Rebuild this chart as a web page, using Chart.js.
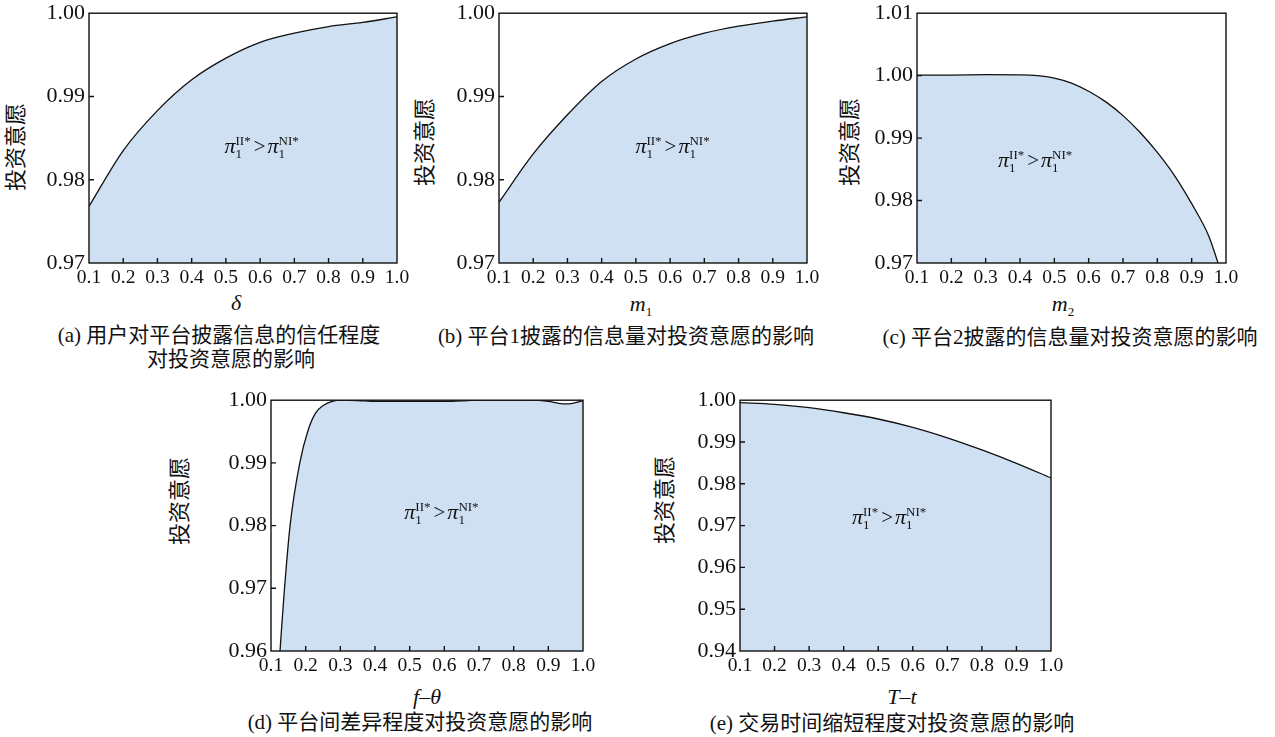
<!DOCTYPE html>
<html>
<head>
<meta charset="utf-8">
<script src="https://cdn.jsdelivr.net/npm/chart.js@4.4.1/dist/chart.umd.min.js"></script>
<style>
  html, body { margin: 0; padding: 0; background: #fff; }
  #wrap { position: relative; width: 1275px; height: 737px; overflow: hidden; }
  #wrap canvas { position: absolute; }
  .t { position: absolute; transform: translate(-50%, -50%); white-space: nowrap; color: #111;
       font-family: "Liberation Serif", "Times New Roman", "Noto Sans CJK SC", serif; line-height: 1; }
  .yt { font-size: 22px; transform: translate(-50%, -50%) rotate(-90deg); }
  .xt { font-size: 22px; }
  .xt sub { font-size: 13px; font-style: normal; vertical-align: -5px; }
  .cap { font-size: 21px; }
</style>
</head>
<body>
<div id="wrap">
  <div class="t yt" style="left:16px;top:147px">投资意愿</div>
  <div class="t yt" style="left:425px;top:142px">投资意愿</div>
  <div class="t yt" style="left:850px;top:142px">投资意愿</div>
  <div class="t yt" style="left:180px;top:501px">投资意愿</div>
  <div class="t yt" style="left:665px;top:500px">投资意愿</div>

  <div class="t xt" style="left:236px;top:303px"><i>δ</i></div>
  <div class="t xt" style="left:641px;top:305px"><i>m</i><sub>1</sub></div>
  <div class="t xt" style="left:1063px;top:305px"><i>m</i><sub>2</sub></div>
  <div class="t xt" style="left:427px;top:697px"><i>f</i>–<i>θ</i></div>
  <div class="t xt" style="left:902px;top:697px"><i>T</i>–<i>t</i></div>

  <div class="t cap" style="left:219px;top:335px">(a) 用户对平台披露信息的信任程度</div>
  <div class="t cap" style="left:231px;top:359px">对投资意愿的影响</div>
  <div class="t cap" style="left:626px;top:336px">(b) 平台1披露的信息量对投资意愿的影响</div>
  <div class="t cap" style="left:1070px;top:337px">(c) 平台2披露的信息量对投资意愿的影响</div>
  <div class="t cap" style="left:420px;top:722px">(d) 平台间差异程度对投资意愿的影响</div>
  <div class="t cap" style="left:892px;top:723px">(e) 交易时间缩短程度对投资意愿的影响</div>
</div>
<script>
const SERIF = '"Liberation Serif", "Times New Roman", serif';

// tick values
const xTicks = [0.1, 0.2, 0.3, 0.4, 0.5, 0.6, 0.7, 0.8, 0.9, 1.0];
const yTicksAB = [0.97, 0.98, 0.99, 1.00];
const yTicksC = [0.97, 0.98, 0.99, 1.00, 1.01];
const yTicksD = [0.96, 0.97, 0.98, 0.99, 1.00];
const yTicksE = [0.94, 0.95, 0.96, 0.97, 0.98, 0.99, 1.00];

// (a) delta
const deltaX = [0.1, 0.2, 0.3, 0.4, 0.5, 0.6, 0.7, 0.8, 0.9, 1.0];
const deltaY = [0.9768, 0.9835, 0.9883, 0.9920, 0.9946, 0.9965, 0.9976, 0.9984, 0.9989, 0.99956];

// (b) m1
const m1X = [0.1, 0.2, 0.3, 0.4, 0.5, 0.6, 0.7, 0.8, 0.9, 1.0];
const m1Y = [0.9773, 0.9831, 0.9878, 0.9918, 0.9945, 0.99635, 0.9976, 0.99845, 0.99905, 0.99956];

// (c) m2
const m2X = [0.1, 0.2, 0.3, 0.4, 0.45, 0.5, 0.55, 0.6, 0.65, 0.7, 0.75, 0.8, 0.85, 0.9, 0.95, 0.977];
const m2Y = [1.0001, 1.0001, 1.00015, 1.00012, 1.0000, 0.9996, 0.9988, 0.9975, 0.9958, 0.9936, 0.9909, 0.9877, 0.9840, 0.9795, 0.9743, 0.9700];

// (d) f - theta
const ftX = [0.126, 0.131, 0.139, 0.155, 0.183, 0.207, 0.228, 0.252, 0.277, 0.30, 0.35, 0.40, 0.50, 0.60, 0.65, 0.70, 0.80, 0.85, 0.90, 0.93, 0.95, 0.97, 1.00];
const ftY = [0.960, 0.9640, 0.970, 0.980, 0.990, 0.9952, 0.9979, 0.9992, 0.9998, 1.0000, 0.99995, 0.9998, 0.9998, 0.9998, 0.9999, 1.0000, 1.0000, 1.0000, 0.9998, 0.9995, 0.9994, 0.9995, 0.9999];

// (e) T - t
const TtX = [0.1, 0.2, 0.3, 0.4, 0.5, 0.6, 0.7, 0.8, 0.9, 1.0];
const TtY = [0.9994, 0.9990, 0.9982, 0.9970, 0.9955, 0.9935, 0.9910, 0.9881, 0.9849, 0.9814];

const panels = [
  { box: [89, 11, 397, 263], xs: deltaX, ys: deltaY, yTicks: yTicksAB, note: [0.562, 0.558] },
  { box: [499, 11, 807, 263], xs: m1X, ys: m1Y, yTicks: yTicksAB, note: [0.565, 0.558] },
  { box: [917, 11, 1226, 263], xs: m2X, ys: m2Y, yTicks: yTicksC, note: [0.384, 0.615] },
  { box: [271, 398, 583, 651], xs: ftX, ys: ftY, yTicks: yTicksD, note: [0.548, 0.475] },
  { box: [740, 398, 1051, 651], xs: TtX, ys: TtY, yTicks: yTicksE, note: [0.481, 0.495] }
];

function drawNote(ctx, cx, by) {
  const big = 'italic 22px ' + SERIF;
  const gt = '21px ' + SERIF;
  const small = '13px ' + SERIF;
  const parts = [
    { t: 'π', f: big }, { sup: 'II*', sub: '1' }, { t: '>', f: gt, pad: 2 },
    { t: 'π', f: big }, { sup: 'NI*', sub: '1' }
  ];
  let total = 0;
  parts.forEach((p) => {
    if (p.t) {
      ctx.font = p.f;
      p.w = ctx.measureText(p.t).width + (p.pad || 0) * 2;
    } else {
      ctx.font = small;
      p.w = Math.max(ctx.measureText(p.sup).width, ctx.measureText(p.sub).width) + 1;
    }
    total += p.w;
  });
  let x = cx - total / 2;
  ctx.fillStyle = '#111';
  ctx.textBaseline = 'alphabetic';
  ctx.textAlign = 'left';
  parts.forEach((p) => {
    if (p.t) {
      ctx.font = p.f;
      ctx.fillText(p.t, x + (p.pad || 0), by);
    } else {
      ctx.font = small;
      ctx.fillText(p.sup, x, by - 8);
      ctx.fillText(p.sub, x, by + 5);
    }
    x += p.w;
  });
}

const framePlugin = {
  id: 'frame',
  afterDatasetsDraw(chart, _args, opts) {
    const { ctx, chartArea: a, scales } = chart;
    ctx.save();
    ctx.strokeStyle = '#111';
    ctx.lineWidth = 1.4;
    ctx.strokeRect(a.left, a.top, a.right - a.left, a.bottom - a.top);
    ctx.beginPath();
    const xt = scales.x.ticks;
    for (let i = 1; i < xt.length - 1; i++) {
      const px = scales.x.getPixelForValue(xt[i].value);
      ctx.moveTo(px, a.bottom);
      ctx.lineTo(px, a.bottom - 5);
    }
    const yt = scales.y.ticks;
    for (let i = 1; i < yt.length - 1; i++) {
      const py = scales.y.getPixelForValue(yt[i].value);
      ctx.moveTo(a.left, py);
      ctx.lineTo(a.left + 5, py);
    }
    ctx.stroke();
    if (opts.note) {
      drawNote(ctx, a.left + opts.note[0] * (a.right - a.left), a.top + opts.note[1] * (a.bottom - a.top));
    }
    ctx.restore();
  }
};

function makePanel(p) {
  const ML = 60, MT = 15, MR = 20, MB = 30;
  const [l, t, r, b] = p.box;
  const cv = document.createElement('canvas');
  cv.width = ML + (r - l) + MR;
  cv.height = MT + (b - t) + MB;
  cv.style.left = (l - ML) + 'px';
  cv.style.top = (t - MT) + 'px';
  document.getElementById('wrap').appendChild(cv);

  new Chart(cv.getContext('2d'), {
    type: 'line',
    data: {
      datasets: [
        {
          data: p.xs.map((x, i) => ({ x, y: p.ys[i] })),
          borderColor: '#111',
          borderWidth: 1.3,
          backgroundColor: '#cfe0f2',
          fill: 'start',
          pointRadius: 0,
          cubicInterpolationMode: 'monotone'
        }
      ]
    },
    options: {
      responsive: false,
      animation: false,
      layout: { padding: { left: 0, top: MT, right: MR, bottom: 0 } },
      plugins: { legend: { display: false }, tooltip: { enabled: false }, frame: { note: p.note } },
      scales: {
        x: {
          type: 'linear',
          min: xTicks[0],
          max: xTicks[xTicks.length - 1],
          grid: { display: false, drawTicks: false },
          border: { display: false },
          afterBuildTicks: (s) => { s.ticks = xTicks.map((v) => ({ value: v })); },
          afterFit: (s) => { s.height = MB; },
          ticks: { autoSkip: false, maxRotation: 0, padding: 3, color: '#111',
                   font: { family: SERIF, size: 19.5 }, callback: (v) => Number(v).toFixed(1) }
        },
        y: {
          type: 'linear',
          min: p.yTicks[0],
          max: p.yTicks[p.yTicks.length - 1],
          grid: { display: false, drawTicks: false },
          border: { display: false },
          afterBuildTicks: (s) => { s.ticks = p.yTicks.map((v) => ({ value: v })); },
          afterFit: (s) => { s.width = ML; },
          ticks: { padding: 4, color: '#111', font: { family: SERIF, size: 22 },
                   callback: (v) => Number(v).toFixed(2) }
        }
      }
    },
    plugins: [framePlugin]
  });
}

panels.forEach(makePanel);
</script>
</body>
</html>
